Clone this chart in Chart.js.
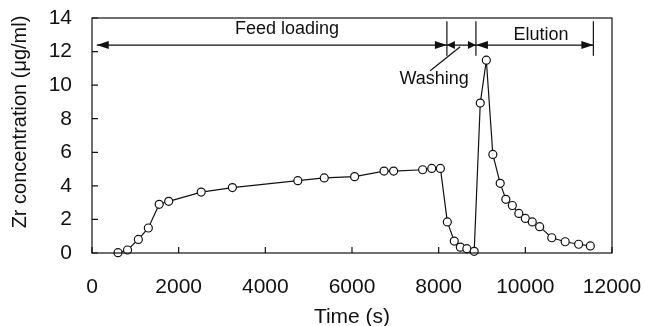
<!DOCTYPE html>
<html>
<head>
<meta charset="utf-8">
<script src="https://cdn.jsdelivr.net/npm/chart.js@4.4.1/dist/chart.umd.min.js"></script>
<style>
  html, body { margin: 0; padding: 0; background: #fff; }
  #wrap { width: 645px; height: 326px; }
</style>
</head>
<body>
<div id="wrap"><canvas id="chart" width="645" height="326"></canvas></div>
<script>
// time (s) and Zr concentration (ug/ml)
const timeS = [600, 820, 1070, 1300, 1550, 1770, 2520, 3240, 4750, 5360, 6060,
  6740, 6960, 7630, 7840, 8040, 8200, 8360, 8500, 8650, 8820, 8960, 9100,
  9250, 9420, 9550, 9700, 9850, 10000, 10160, 10330, 10610, 10920, 11230, 11500];
const zrConc = [0.02, 0.18, 0.81, 1.49, 2.9, 3.08, 3.63, 3.9, 4.31, 4.47, 4.55,
  4.88, 4.88, 4.96, 5.04, 5.04, 1.85, 0.71, 0.35, 0.26, 0.1, 8.93, 11.49,
  5.87, 4.15, 3.2, 2.83, 2.36, 2.06, 1.85, 1.57, 0.91, 0.67, 0.52, 0.42];

const xTicks = [0, 2000, 4000, 6000, 8000, 10000, 12000];
const yTicks = [0, 2, 4, 6, 8, 10, 12, 14];

// phase boundaries (s) and labels for the arrows on top
const phaseEdges = [110, 8190, 8860, 11570];
const phaseNames = ['Feed loading', 'Washing', 'Elution'];

const FONT = '"Liberation Sans", Arial, sans-serif';

const points = timeS.map((t, i) => ({ x: t, y: zrConc[i] }));

function arrowHead(ctx, tipX, y, dir, len, half) {
  ctx.beginPath();
  ctx.moveTo(tipX, y);
  ctx.lineTo(tipX - dir * len, y - half);
  ctx.lineTo(tipX - dir * len, y + half);
  ctx.closePath();
  ctx.fill();
}

function noPad(s) {
  s.paddingLeft = s.paddingRight = s.paddingTop = s.paddingBottom = 0;
}

const decor = {
  id: 'decor',
  afterDraw(chart) {
    const ctx = chart.ctx;
    const xs = chart.scales.x, ys = chart.scales.y;
    const a = chart.chartArea;
    ctx.save();
    ctx.strokeStyle = '#111';
    ctx.fillStyle = '#111';
    ctx.lineWidth = 1.2;

    // frame
    ctx.strokeRect(a.left, a.top, a.right - a.left, a.bottom - a.top);

    // inward tick marks
    ctx.beginPath();
    xTicks.forEach(v => {
      const px = xs.getPixelForValue(v);
      ctx.moveTo(px, a.bottom);
      ctx.lineTo(px, a.bottom - 6);
    });
    yTicks.forEach(v => {
      const py = ys.getPixelForValue(v);
      ctx.moveTo(a.left, py);
      ctx.lineTo(a.left + 6, py);
    });
    ctx.stroke();

    // phase arrows
    const yArr = ys.getPixelForValue(12.39);
    const barTop = ys.getPixelForValue(13.8), barBot = ys.getPixelForValue(11.75);
    const ex = phaseEdges.map(v => xs.getPixelForValue(v));
    ctx.beginPath();
    for (let i = 1; i < ex.length; i++) {
      ctx.moveTo(ex[i], barTop);
      ctx.lineTo(ex[i], barBot);
    }
    ctx.moveTo(ex[0], yArr);
    ctx.lineTo(ex[3], yArr);
    ctx.stroke();
    arrowHead(ctx, ex[0], yArr, -1, 12, 4);
    arrowHead(ctx, ex[1], yArr, 1, 12, 4);
    arrowHead(ctx, ex[1], yArr, -1, 8, 4);
    arrowHead(ctx, ex[2], yArr, 1, 8, 4);
    arrowHead(ctx, ex[2], yArr, -1, 12, 4);
    arrowHead(ctx, ex[3], yArr, 1, 12, 4);

    // washing leader line
    ctx.beginPath();
    ctx.moveTo(xs.getPixelForValue(7804), ys.getPixelForValue(10.86));
    ctx.lineTo(xs.getPixelForValue(8496), ys.getPixelForValue(12.29));
    ctx.stroke();

    ctx.font = '18px ' + FONT;
    ctx.textAlign = 'center';
    ctx.textBaseline = 'middle';
    ctx.fillText(phaseNames[0], xs.getPixelForValue(4500), ys.getPixelForValue(13.37));
    ctx.fillText(phaseNames[1], xs.getPixelForValue(7896), ys.getPixelForValue(10.37));
    ctx.fillText(phaseNames[2], xs.getPixelForValue(10364), ys.getPixelForValue(13.0));

    // axis titles
    ctx.font = '21px ' + FONT;
    ctx.fillText('Time (s)', (a.left + a.right) / 2, 317);
    ctx.save();
    ctx.translate(20, 122);
    ctx.rotate(-Math.PI / 2);
    ctx.font = '20px ' + FONT;
    ctx.fillText('Zr concentration (\u03bcg/ml)', 0, 0);
    ctx.restore();

    ctx.restore();
  }
};

new Chart(document.getElementById('chart'), {
  type: 'line',
  data: {
    datasets: [{
      data: points,
      borderColor: '#111',
      borderWidth: 1.2,
      tension: 0,
      pointRadius: 4,
      pointBorderWidth: 1.2,
      pointBackgroundColor: '#fff',
      pointBorderColor: '#111',
      clip: false
    }]
  },
  options: {
    responsive: false,
    animation: false,
    layout: { padding: { left: 0, right: 33, top: 18, bottom: 0 } },
    plugins: { legend: { display: false }, tooltip: { enabled: false } },
    scales: {
      x: {
        type: 'linear',
        min: 0, max: 12000,
        afterFit(s) { s.height = 73; noPad(s); },
        afterBuildTicks(s) { s.ticks = xTicks.map(v => ({ value: v })); },
        grid: { display: false, drawTicks: false },
        border: { display: false },
        ticks: {
          padding: 22,
          color: '#111',
          font: { family: FONT, size: 21 },
          callback: v => String(v)
        }
      },
      y: {
        min: 0, max: 14,
        afterFit(s) { s.width = 92; noPad(s); },
        afterBuildTicks(s) { s.ticks = yTicks.map(v => ({ value: v })); },
        grid: { display: false, drawTicks: false },
        border: { display: false },
        ticks: {
          padding: 20,
          color: '#111',
          font: { family: FONT, size: 21 },
          callback: v => String(v)
        }
      }
    }
  },
  plugins: [decor]
});
</script>
</body>
</html>
